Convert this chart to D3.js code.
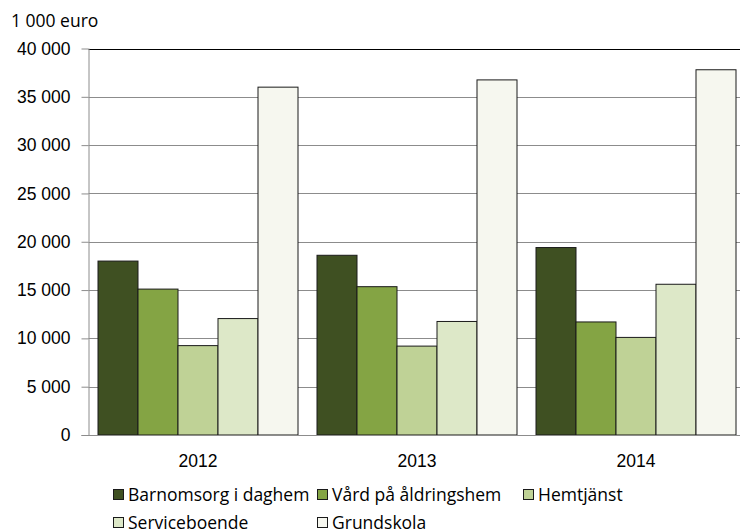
<!DOCTYPE html>
<html>
<head>
<meta charset="utf-8">
<script src="https://cdn.jsdelivr.net/npm/d3@7"></script>
<style>
  body { margin: 0; background: #fff; }
  svg { display: block; font-family: "Open Sans", sans-serif; }
</style>
</head>
<body>
<script>
// data
var years = ["2012", "2013", "2014"];
var series = ["Barnomsorg i daghem", "Vård på åldringshem", "Hemtjänst", "Serviceboende", "Grundskola"];
var barnomsorg = [18000, 18600, 19400];
var vard = [15100, 15350, 11700];
var hemtjanst = [9250, 9200, 10100];
var serviceboende = [12050, 11750, 15600];
var grundskola = [36000, 36750, 37800];
var yTicks = [0, 5000, 10000, 15000, 20000, 25000, 30000, 35000, 40000];
var colors = ["#3f5022", "#84a444", "#bfd296", "#dde8c8", "#f6f7ef"];

var values = [barnomsorg, vard, hemtjanst, serviceboende, grundskola];

var width = 740, height = 530;
var mLeft = 88.5, mRight = 745.5, mTop = 48.5, mBottom = 435;
var fontSize = 17.5;

var svg = d3.select("body").append("svg")
  .attr("width", width)
  .attr("height", height);

var x0 = d3.scaleBand().domain(years).range([mLeft, mRight]).padding(0);
var x1 = d3.scaleBand().domain(series).range([9.5, x0.bandwidth() - 9.5]).padding(0);
var y = d3.scaleLinear().domain([0, 40000]).range([mBottom, mTop]);

var fmt = function (d) {
  return d3.format(",")(d).replace(/,/g, " ");
};

// grid lines
svg.append("g").selectAll("line")
  .data(yTicks.filter(function (d) { return d > 0 && d < 40000; }))
  .join("line")
  .attr("x1", mLeft).attr("x2", width)
  .attr("y1", function (d) { return Math.round(y(d)) + 0.5; })
  .attr("y2", function (d) { return Math.round(y(d)) + 0.5; })
  .attr("stroke", "#8c8c8c")
  .attr("stroke-width", 1);

// top border
svg.append("line")
  .attr("x1", mLeft).attr("x2", width)
  .attr("y1", Math.round(y(40000)) + 0.5).attr("y2", Math.round(y(40000)) + 0.5)
  .attr("stroke", "#000");

// bars
var groups = svg.append("g").selectAll("g")
  .data(years)
  .join("g")
  .attr("transform", function (d) { return "translate(" + x0(d) + ",0)"; });

groups.selectAll("rect")
  .data(function (d, i) {
    return series.map(function (s, j) { return {s: s, v: values[j][i], j: j}; });
  })
  .join("rect")
  .attr("x", function (d) { return x1(d.s); })
  .attr("width", x1.bandwidth())
  .attr("y", function (d) { return y(d.v); })
  .attr("height", function (d) { return mBottom - y(d.v); })
  .attr("fill", function (d) { return colors[d.j]; })
  .attr("stroke", "#1a1a1a")
  .attr("stroke-width", 1);

// y axis
var yAxis = svg.append("g")
  .attr("transform", "translate(" + mLeft + ",0)")
  .call(d3.axisLeft(y).tickValues(yTicks).tickFormat(fmt).tickSize(7).tickPadding(11));
yAxis.select(".domain").attr("stroke", "#8c8c8c").attr("d", "M0.5," + mTop + "V" + mBottom);
yAxis.selectAll(".tick line").attr("stroke", "#8c8c8c");
yAxis.selectAll(".tick text")
  .attr("font-size", fontSize)
  .attr("font-family", null)
  .attr("fill", "#000");

// x axis
var xAxis = svg.append("g")
  .attr("transform", "translate(0," + mBottom + ")")
  .call(d3.axisBottom(x0).tickSize(0).tickPadding(20));
xAxis.select(".domain").attr("stroke", "#8c8c8c").attr("d", "M" + (mLeft - 7) + ",0.5H" + width);
xAxis.selectAll(".tick text")
  .attr("font-size", fontSize)
  .attr("font-family", null)
  .attr("fill", "#000");

// unit label
svg.append("text")
  .attr("x", 11).attr("y", 27)
  .attr("font-size", fontSize)
  .text("1 000 euro");

// legend
var legendPos = [[113, 495], [317, 495], [523, 495], [113, 523], [317, 523]];
var legend = svg.append("g").selectAll("g")
  .data(series)
  .join("g")
  .attr("transform", function (d, i) { return "translate(" + legendPos[i][0] + "," + legendPos[i][1] + ")"; });
legend.append("rect")
  .attr("x", 0.5).attr("y", -5.5)
  .attr("width", 10).attr("height", 10)
  .attr("fill", function (d, i) { return colors[i]; })
  .attr("stroke", "#1a1a1a");
legend.append("text")
  .attr("x", 15).attr("y", 6)
  .attr("font-size", fontSize)
  .text(function (d) { return d; });
</script>
</body>
</html>
